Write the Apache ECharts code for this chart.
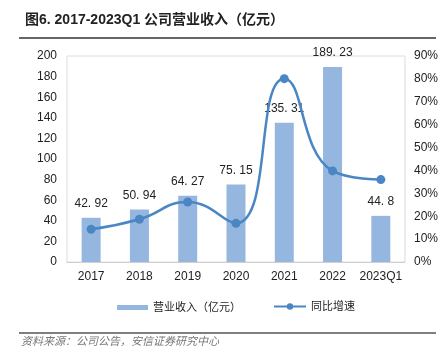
<!DOCTYPE html>
<html>
<head>
<meta charset="utf-8">
<script src="https://cdn.jsdelivr.net/npm/echarts@6/dist/echarts.min.js"></script>
<style>
  html, body { margin: 0; padding: 0; background: #fff; }
  #chart { width: 441px; height: 364px; }
</style>
</head>
<body>
<div id="chart"></div>
<script>
var categories = ['2017', '2018', '2019', '2020', '2021', '2022', '2023Q1'];
var revenue = [42.92, 50.94, 64.27, 75.15, 135.31, 189.23, 44.8];
var growth = [0.143, 0.187, 0.262, 0.169, 0.801, 0.398, 0.36];
var leftTicks = { min: 0, max: 200, interval: 20 };
var rightTicks = { min: 0, max: 0.9, interval: 0.1 };

var font = '"Liberation Sans", "Noto Sans CJK SC", sans-serif';
var chart = echarts.init(document.getElementById('chart'));

var option = {
    textStyle: { fontFamily: font },
    title: {
        text: '图6. 2017-2023Q1 公司营业收入（亿元）',
        left: 20,
        top: 8,
        textStyle: { fontSize: 14, fontWeight: 'bold', color: '#222', fontFamily: font }
    },
    graphic: [
        // 标题下划线
        { type: 'line', shape: { x1: 19, y1: 38, x2: 436, y2: 38 }, style: { stroke: '#333', lineWidth: 1.5 } },
        // 底部分隔线
        { type: 'line', shape: { x1: 19, y1: 333, x2: 436, y2: 333 }, style: { stroke: '#555', lineWidth: 1.5 } },
        {
            type: 'text', left: 21, top: 336,
            style: { text: '资料来源：公司公告，安信证券研究中心', fill: '#777', fontSize: 11, fontStyle: 'italic', fontFamily: font }
        }
    ],
    legend: [
        {
            data: [{ name: '营业收入（亿元）', icon: 'rect' }],
            left: 112, top: 297,
            itemWidth: 31, itemHeight: 5,
            textStyle: { fontSize: 11, color: '#222' }
        },
        {
            data: ['同比增速'],
            left: 268, top: 296,
            itemWidth: 32, itemHeight: 8,
            textStyle: { fontSize: 11, color: '#222' }
        }
    ],
    grid: {
        left: 67, right: 36, top: 56, bottom: 102,
        show: true, borderColor: '#dcdcdc', borderWidth: 1
    },
    xAxis: {
        type: 'category',
        data: categories,
        axisLine: { lineStyle: { color: '#d0d0d0' } },
        axisTick: { show: false },
        axisLabel: { color: '#222', fontSize: 12, margin: 9, interval: 0 }
    },
    yAxis: [
        {
            type: 'value',
            min: leftTicks.min, max: leftTicks.max, interval: leftTicks.interval,
            splitLine: { show: false },
            axisLine: { show: false },
            axisLabel: { color: '#222', fontSize: 12, margin: 10 }
        },
        {
            type: 'value',
            min: rightTicks.min, max: rightTicks.max, interval: rightTicks.interval,
            splitLine: { show: false },
            axisLine: { show: false },
            axisLabel: {
                color: '#222', fontSize: 12, margin: 9,
                formatter: function (v) { return Math.round(v * 100) + '%'; }
            }
        }
    ],
    series: [
        {
            name: '营业收入（亿元）',
            type: 'bar',
            data: revenue,
            barWidth: 19,
            itemStyle: { color: '#95b7df' },
            label: {
                show: true, position: 'top', distance: 8,
                color: '#222', fontSize: 12,
                formatter: function (p) { return String(p.value).replace('.', '. '); }
            }
        },
        {
            name: '同比增速',
            type: 'line',
            yAxisIndex: 1,
            data: growth,
            smooth: 0.5,
            symbol: 'circle',
            symbolSize: 9,
            lineStyle: { color: '#4a86c4', width: 2.5 },
            itemStyle: { color: '#4a86c4' }
        }
    ]
};

chart.setOption(option);
</script>
</body>
</html>
